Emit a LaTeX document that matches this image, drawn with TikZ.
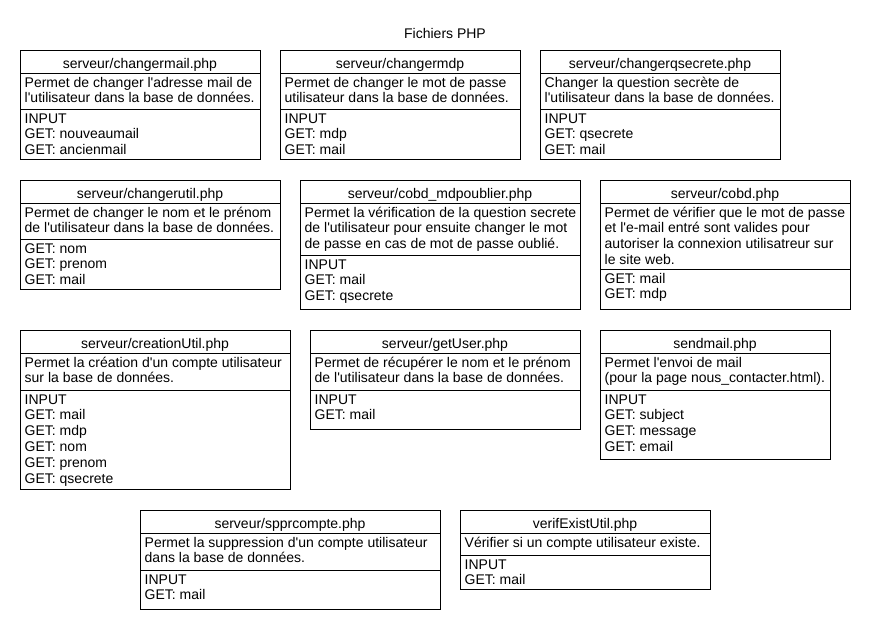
\documentclass[tikz,border=0pt]{standalone}
\usepackage{fontspec}
\setmainfont{Liberation Sans}[Ligatures=TeXOff]
\usepackage{tikz}
\usepackage{xcolor}
\definecolor{filestroke}{RGB}{0,0,0}

% one box per PHP file: name, left, right, top, divider, bottom, title, text, inputs
\newcommand{\phpfile}[9]{%
  \draw[filebox] (#2,#4) rectangle (#3,#6);
  \draw[filebox] (#2,#4+23) -- (#3,#4+23);
  \draw[filebox] (#2,#5) -- (#3,#5);
  \node[filetitle] (#1) at ({(#2+#3)/2},#4+18) {#7};
  \node[filetext] (#1-desc) at (#2,#4+23) {\strut#8};
  \node[filetext] (#1-in) at (#2,#5) {\strut#9};
}

\begin{document}
\begin{tikzpicture}[
    x=1pt, y=-1pt,
    filebox/.style={draw=filestroke, line width=1pt},
    filetitle/.style={anchor=base, inner sep=0pt},
    filetext/.style={anchor=north west, align=left, inner xsep=4.5pt, inner ysep=2.9pt},
    every node/.style={font=\fontsize{14}{15.8}\selectfont},
]
  \useasboundingbox (0,0) rectangle (870,630);
  \node[filetitle] (titre) at (445,38) {Fichiers PHP};

  \phpfile{changermail}{20}{260}{50}{109}{159}{serveur/changermail.php}
    {Permet de changer l'adresse mail de\\l'utilisateur dans la base de données.}
    {INPUT\\GET: nouveaumail\\GET: ancienmail}
  \phpfile{changermdp}{280}{520}{50}{109}{159}{serveur/changermdp}
    {Permet de changer le mot de passe\\utilisateur dans la base de données.}
    {INPUT\\GET: mdp\\GET: mail}
  \phpfile{changerqsecrete}{540}{780}{50}{109}{159}{serveur/changerqsecrete.php}
    {Changer la question secrète de\\l'utilisateur dans la base de données.}
    {INPUT\\GET: qsecrete\\GET: mail}

  \phpfile{changerutil}{20}{280}{180}{239}{289}{serveur/changerutil.php}
    {Permet de changer le nom et le prénom\\de l'utilisateur dans la base de données.}
    {GET: nom\\GET: prenom\\GET: mail}
  \phpfile{mdpoublier}{300}{580}{180}{255}{309}{serveur/cobd\_mdpoublier.php}
    {Permet la vérification de la question secrete\\de l'utilisateur pour ensuite changer le mot\\de passe en cas de mot de passe oublié.}
    {INPUT\\GET: mail\\GET: qsecrete}
  \phpfile{cobd}{600}{850}{180}{269}{309}{serveur/cobd.php}
    {Permet de vérifier que le mot de passe\\et l'e-mail entré sont valides pour\\autoriser la connexion utilisatreur sur\\le site web.}
    {GET: mail\\GET: mdp}

  \phpfile{creationutil}{20}{290}{330}{390}{489}{serveur/creationUtil.php}
    {Permet la création d'un compte utilisateur\\sur la base de données.}
    {INPUT\\GET: mail\\GET: mdp\\GET: nom\\GET: prenom\\GET: qsecrete}
  \phpfile{getuser}{310}{580}{330}{390}{429}{serveur/getUser.php}
    {Permet de récupérer le nom et le prénom\\de l'utilisateur dans la base de données.}
    {INPUT\\GET: mail}
  \phpfile{sendmail}{600}{830}{330}{390}{459}{sendmail.php}
    {Permet l'envoi de mail\\(pour la page nous\_contacter.html).}
    {INPUT\\GET: subject\\GET: message\\GET: email}

  \phpfile{spprcompte}{140}{440}{510}{570}{609}{serveur/spprcompte.php}
    {Permet la suppression d'un compte utilisateur\\dans la base de données.}
    {INPUT\\GET: mail}
  \phpfile{verifexist}{460}{710}{510}{555}{589}{verifExistUtil.php}
    {Vérifier si un compte utilisateur existe.}
    {INPUT\\GET: mail}
\end{tikzpicture}
\end{document}
